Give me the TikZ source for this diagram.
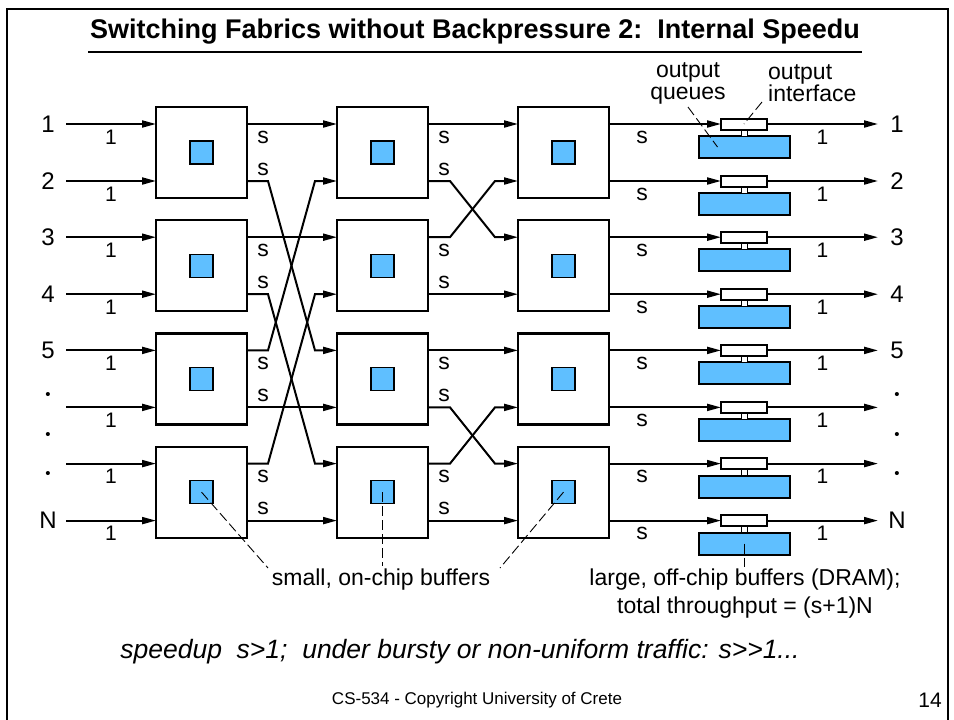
\documentclass[tikz,border=0pt]{standalone}
\usepackage{fontspec}
\setmainfont{Liberation Sans}
\usetikzlibrary{arrows.meta}
\definecolor{bufblue}{RGB}{95,191,255}

\begin{document}
\begin{tikzpicture}[x=1pt,y=-1pt,
    switch node/.style={draw,line width=2.2pt,fill=white,minimum size=91pt,inner sep=0pt,outer sep=0pt},
    buffer node/.style={draw,line width=1.3pt,fill=bufblue,minimum size=23pt,inner sep=0pt,outer sep=0pt},
    iface node/.style={draw,line width=2pt,fill=white,minimum width=46pt,minimum height=11pt,inner sep=0pt,outer sep=0pt},
    queue node/.style={draw,line width=2pt,fill=bufblue,minimum width=91pt,minimum height=22pt,inner sep=0pt,outer sep=0pt},
    link node/.style={draw,line width=1.2pt,fill=white,minimum width=6pt,minimum height=6.5pt,inner sep=0pt,outer sep=0pt},
    port label/.style={font=\fontsize{24}{24}\selectfont,inner sep=0pt},
    rate label/.style={font=\fontsize{21}{21}\selectfont,inner sep=0pt},
    speed label/.style={font=\fontsize{23}{23}\selectfont,inner sep=0pt},
    note/.style={font=\fontsize{23}{28}\selectfont,align=center,inner sep=0pt},
    wire/.style={line width=2pt,-{Triangle[length=14pt,width=7pt]}},
    leader/.style={line width=0.9pt,dash pattern=on 10pt off 4pt}
  ]
  \useasboundingbox (0,0) rectangle (954,720);
  \draw[line width=2.2pt] (7,720) -- (7,9) -- (948,9) -- (948,720);

  % title
  \node[font=\fontsize{27}{27}\selectfont\bfseries] (title) at (475,32)
    {Switching Fabrics without Backpressure 2:\ \ Internal Speedu};
  \draw[line width=1.5pt] (88,52) -- (862,52);

  % switch chips with their small buffers
  \foreach \c/\x in {1/201.5,2/382.5,3/563.5}
    \foreach \r in {1,...,4}{
      \pgfmathsetmacro\y{152.5+113.2*(\r-1)}
      \node[switch node] (sw-\c-\r) at (\x,\y) {};
      \node[buffer node] (buf-\c-\r) at (sw-\c-\r) {};
    }

  % port points on the chips
  \foreach \c in {1,2,3}
    \foreach \r in {1,...,4}{
      \pgfmathtruncatemacro\k{2*\r-1}
      \pgfmathtruncatemacro\kk{2*\r}
      \coordinate (in-\c-\k) at ([yshift=28.5pt]sw-\c-\r.west);
      \coordinate (in-\c-\kk) at ([yshift=-28.5pt]sw-\c-\r.west);
      \coordinate (out-\c-\k) at ([yshift=28.5pt]sw-\c-\r.east);
      \coordinate (out-\c-\kk) at ([yshift=-28.5pt]sw-\c-\r.east);
    }

  % inputs
  \foreach \k in {1,...,8}{
    \coordinate (src-\k) at ([xshift=-90pt]in-1-\k);
    \draw[wire] (src-\k) -- (in-1-\k)
      node[rate label,pos=0.5,yshift=-13pt] (rin-\k) {1};
  }
  \foreach \k/\lab in {1/1,2/2,3/3,4/4,5/5,8/N}
    \node[port label] (inlab-\k) at ([xshift=-18pt]src-\k) {\lab};
  \node[font=\fontsize{15}{15}\selectfont] (indot-1) at (48,396) {•};
  \node[font=\fontsize{15}{15}\selectfont] (indot-2) at (48,436) {•};
  \node[font=\fontsize{15}{15}\selectfont] (indot-3) at (48,475) {•};

  % stage 1 -> 2
  \foreach \k/\m in {1/1,3/3,6/6,8/8}
    \draw[wire] (out-1-\k) -- (in-2-\m);
  \foreach \k/\m in {2/5,4/7,5/2,7/4}
    \draw[wire] (out-1-\k) -- ++(21,0) -- ([xshift=-22pt]in-2-\m) -- (in-2-\m);

  % stage 2 -> 3
  \foreach \k/\m in {1/1,4/4,5/5,8/8}
    \draw[wire] (out-2-\k) -- (in-3-\m);
  \foreach \k/\m in {2/3,3/2,6/7,7/6}
    \draw[wire] (out-2-\k) -- ++(22,0) -- ([xshift=-23pt]in-3-\m) -- (in-3-\m);

  % speed labels
  \foreach \c in {1,2}{
    \foreach \k in {1,3,5,7}
      \node[speed label] (s-\c-\k) at ([xshift=16pt,yshift=-13pt]out-\c-\k) {s};
    \foreach \k in {2,4,6,8}
      \node[speed label] (s-\c-\k) at ([xshift=16pt,yshift=12pt]out-\c-\k) {s};
  }
  \foreach \k in {1,...,8}
    \node[speed label] (s-3-\k) at ([xshift=33pt,yshift=-13pt]out-3-\k) {s};

  % output interfaces and queues
  \foreach \k in {1,...,8}{
    \node[queue node] (oq-\k) at ([xshift=135.5pt,yshift=-23pt]out-3-\k) {};
    \node[link node] (ol-\k) at ([xshift=135.5pt,yshift=-9pt]out-3-\k) {};
    \node[iface node] (oif-\k) at ([xshift=135pt]out-3-\k) {};
    \draw[wire] (out-3-\k) -- (oif-\k.west);
    \coordinate (dst-\k) at ([xshift=111pt]oif-\k.east);
    \draw[wire] (oif-\k.east) -- (dst-\k)
      node[rate label,pos=0.5,yshift=-13pt] (rout-\k) {1};
  }
  \foreach \k/\lab in {1/1,2/2,3/3,4/4,5/5,8/N}
    \node[port label] (outlab-\k) at ([xshift=19pt]dst-\k) {\lab};
  \node[font=\fontsize{15}{15}\selectfont] (outdot-1) at (897,396) {•};
  \node[font=\fontsize{15}{15}\selectfont] (outdot-2) at (897,436) {•};
  \node[font=\fontsize{15}{15}\selectfont] (outdot-3) at (897,475) {•};

  % annotations
  \node[font=\fontsize{23}{22}\selectfont,align=center,inner sep=0pt] (qlab) at (688,83) {output\\queues};
  \node[font=\fontsize{23}{22}\selectfont,align=left,anchor=west,inner sep=0pt] (ilab) at (768,83) {output\\interface};
  \coordinate (qlead) at (688,107);
  \coordinate (ilead) at (762,102);
  \draw[leader] (qlead) -- ([xshift=-27pt]oq-1.center);
  \draw[leader] (ilead) -- (oif-1.center);

  \node[note] (chipnote) at (381,580) {small, on-chip buffers};
  \coordinate (clead-1) at (268,568);
  \coordinate (clead-2) at (382.5,566);
  \coordinate (clead-3) at (500,568);
  \draw[leader] (buf-1-4.center) -- (clead-1);
  \draw[leader] (buf-2-4.center) -- (clead-2);
  \draw[leader] (buf-3-4.center) -- (clead-3);

  \node[note] (dramnote) at (745,594) {large, off-chip buffers (DRAM);\\total throughput = (s+1)N};
  \coordinate (dlead) at (744.5,567);
  \draw[leader] (oq-8.center) -- (dlead);

  \node[font=\fontsize{26.5}{26.5}\selectfont\itshape] (speednote) at (460,652)
    {speedup\ \ s>1;\ \ under bursty or non-uniform traffic: s>{}>1...};
  \node[font=\fontsize{17}{17}\selectfont] (footer) at (477,700) {CS-534 - Copyright University of Crete};
  \node[font=\fontsize{21}{21}\selectfont] (pageno) at (930,700) {14};
\end{tikzpicture}
\end{document}
